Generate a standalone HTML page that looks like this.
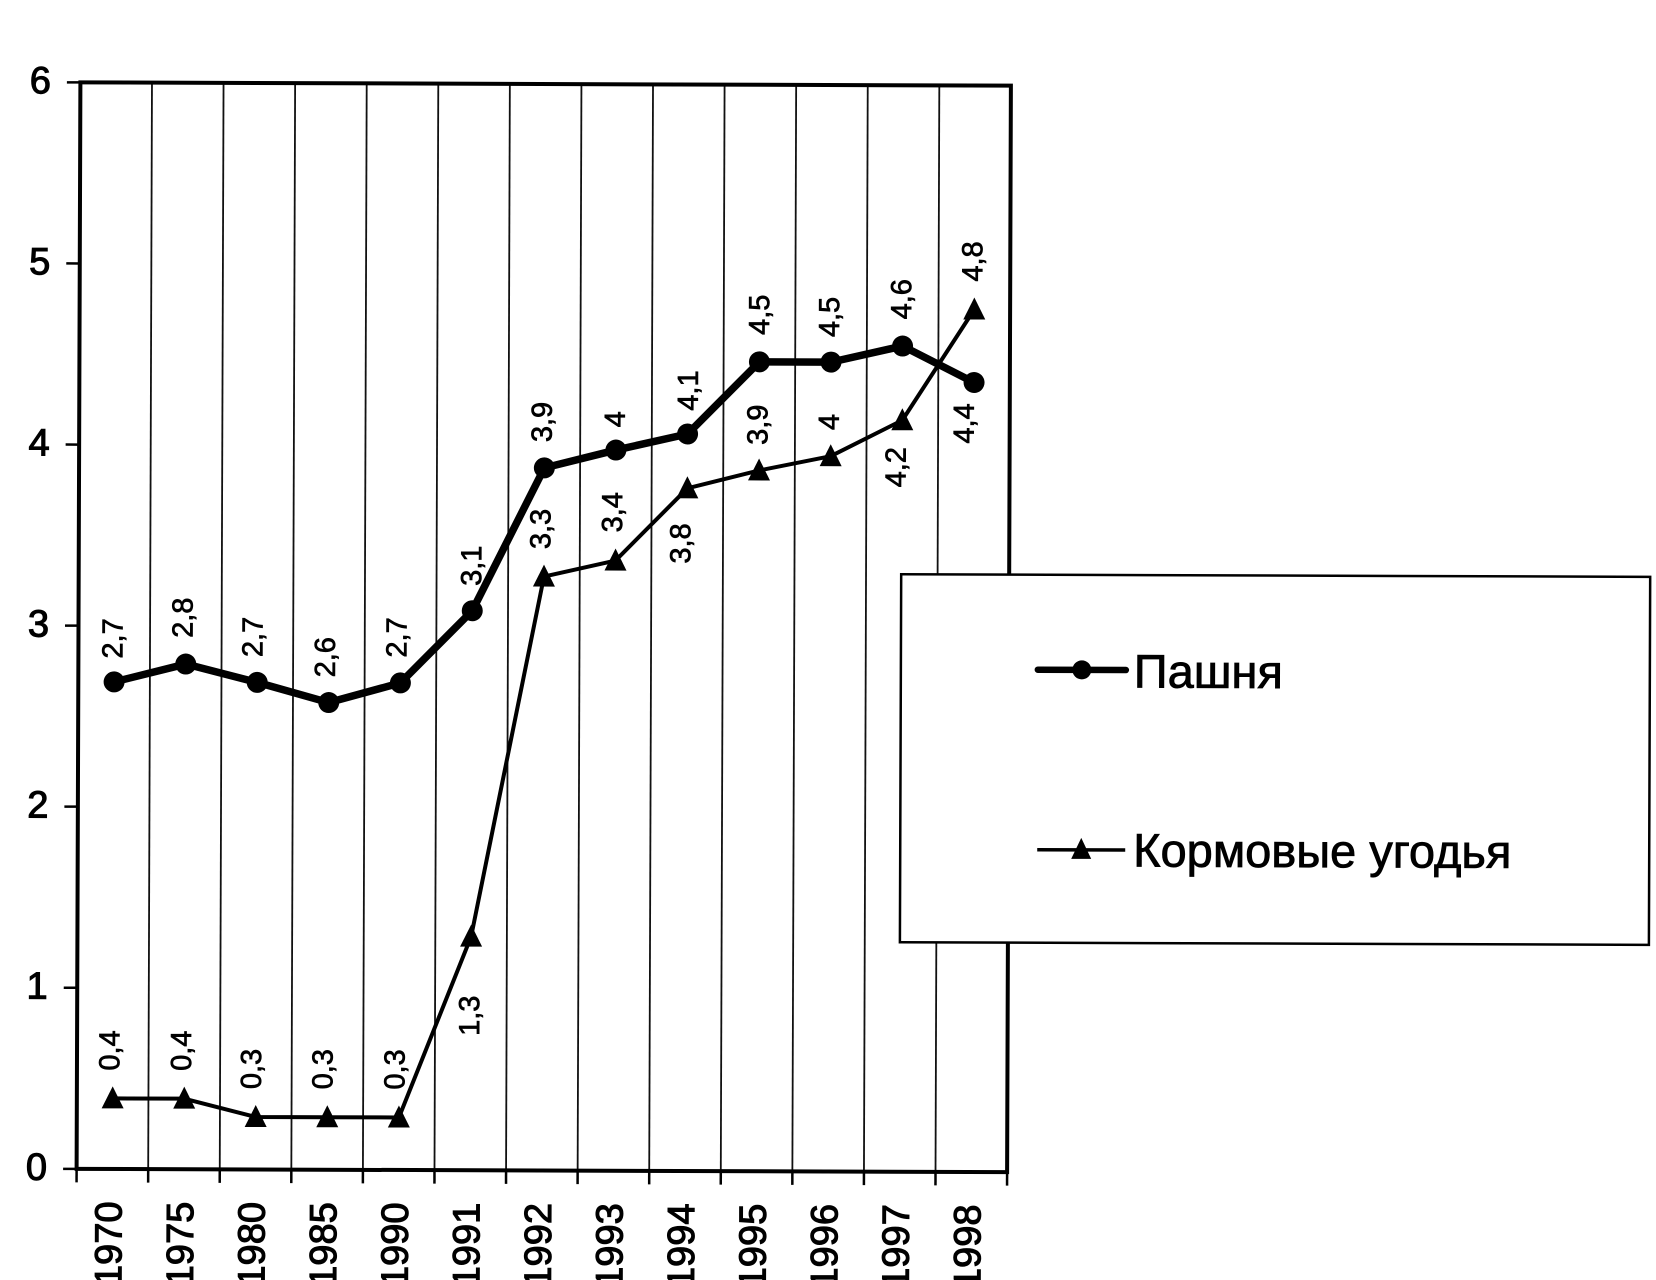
<!DOCTYPE html>
<html>
<head>
<meta charset="utf-8">
<style>
  html, body { margin: 0; padding: 0; background: #fff; }
  body { width: 1656px; height: 1280px; overflow: hidden; }
  svg { display: block; }
  text { font-family: "Liberation Sans", "DejaVu Sans", sans-serif; fill: #000; }
</style>
</head>
<body>
<svg width="1656" height="1280" viewBox="0 0 1656 1280" xmlns="http://www.w3.org/2000/svg">
  <rect x="0" y="0" width="1656" height="1280" fill="#fff"/>
  <g transform="rotate(0.2 544 627)">
    <!-- vertical gridlines -->
    <g stroke="#111" stroke-width="1.8">
      <line x1="150.08" y1="84" x2="150.08" y2="1170.5"/>
      <line x1="221.65" y1="84" x2="221.65" y2="1170.5"/>
      <line x1="293.23" y1="84" x2="293.23" y2="1170.5"/>
      <line x1="364.81" y1="84" x2="364.81" y2="1170.5"/>
      <line x1="436.39" y1="84" x2="436.39" y2="1170.5"/>
      <line x1="507.96" y1="84" x2="507.96" y2="1170.5"/>
      <line x1="579.54" y1="84" x2="579.54" y2="1170.5"/>
      <line x1="651.12" y1="84" x2="651.12" y2="1170.5"/>
      <line x1="722.69" y1="84" x2="722.69" y2="1170.5"/>
      <line x1="794.27" y1="84" x2="794.27" y2="1170.5"/>
      <line x1="865.85" y1="84" x2="865.85" y2="1170.5"/>
      <line x1="937.42" y1="84" x2="937.42" y2="1170.5"/>
    </g>
    <!-- plot frame -->
    <rect x="78.5" y="84" width="930.5" height="1086.5" fill="none" stroke="#000" stroke-width="4"/>
    <!-- y ticks -->
    <g stroke="#000" stroke-width="2.5">
      <line x1="65" y1="84" x2="78.5" y2="84"/>
      <line x1="65" y1="265.1" x2="78.5" y2="265.1"/>
      <line x1="65" y1="446.2" x2="78.5" y2="446.2"/>
      <line x1="65" y1="627.3" x2="78.5" y2="627.3"/>
      <line x1="65" y1="808.3" x2="78.5" y2="808.3"/>
      <line x1="65" y1="989.4" x2="78.5" y2="989.4"/>
      <line x1="65" y1="1170.5" x2="78.5" y2="1170.5"/>
    </g>
    <!-- x ticks -->
    <g stroke="#000" stroke-width="2.5">
      <line x1="78.5" y1="1170.5" x2="78.5" y2="1184"/>
      <line x1="150.08" y1="1170.5" x2="150.08" y2="1184"/>
      <line x1="221.65" y1="1170.5" x2="221.65" y2="1184"/>
      <line x1="293.23" y1="1170.5" x2="293.23" y2="1184"/>
      <line x1="364.81" y1="1170.5" x2="364.81" y2="1184"/>
      <line x1="436.39" y1="1170.5" x2="436.39" y2="1184"/>
      <line x1="507.96" y1="1170.5" x2="507.96" y2="1184"/>
      <line x1="579.54" y1="1170.5" x2="579.54" y2="1184"/>
      <line x1="651.12" y1="1170.5" x2="651.12" y2="1184"/>
      <line x1="722.69" y1="1170.5" x2="722.69" y2="1184"/>
      <line x1="794.27" y1="1170.5" x2="794.27" y2="1184"/>
      <line x1="865.85" y1="1170.5" x2="865.85" y2="1184"/>
      <line x1="937.42" y1="1170.5" x2="937.42" y2="1184"/>
      <line x1="1009" y1="1170.5" x2="1009" y2="1184"/>
    </g>
    <!-- y labels -->
    <g font-size="38" text-anchor="end" stroke="#000" stroke-width="1.1">
      <text x="49" y="95">6</text>
      <text x="49" y="276.1">5</text>
      <text x="49" y="457.2">4</text>
      <text x="49" y="638.3">3</text>
      <text x="49" y="819.3">2</text>
      <text x="49" y="1000.4">1</text>
      <text x="49" y="1181.5">0</text>
    </g>
    <!-- x labels -->
    <g font-size="38" text-anchor="end" stroke="#000" stroke-width="1.1">
      <text transform="translate(123.6,1203) rotate(-90)">1970</text>
      <text transform="translate(195.2,1203) rotate(-90)">1975</text>
      <text transform="translate(266.7,1203) rotate(-90)">1980</text>
      <text transform="translate(338.3,1203) rotate(-90)">1985</text>
      <text transform="translate(409.9,1203) rotate(-90)">1990</text>
      <text transform="translate(481.5,1203) rotate(-90)">1991</text>
      <text transform="translate(553.1,1203) rotate(-90)">1992</text>
      <text transform="translate(624.6,1203) rotate(-90)">1993</text>
      <text transform="translate(696.2,1203) rotate(-90)">1994</text>
      <text transform="translate(767.8,1203) rotate(-90)">1995</text>
      <text transform="translate(839.4,1203) rotate(-90)">1996</text>
      <text transform="translate(910.9,1203) rotate(-90)">1997</text>
      <text transform="translate(982.5,1203) rotate(-90)">1998</text>
    </g>

    <!-- Series 1: Пашня -->
    <polyline fill="none" stroke="#000" stroke-width="7.5" stroke-linejoin="round" stroke-linecap="round"
      points="114.3,683.4 185.9,665.3 257.4,683.4 329.0,703.3 400.6,683.4 472.2,611.0 543.8,467.9 615.3,449.8 686.9,433.5 758.5,361.1 830.1,361.1 901.6,344.8 973.2,381.0"/>
    <g fill="#000">
      <circle cx="114.3" cy="683.4" r="10.5"/>
      <circle cx="185.9" cy="665.3" r="10.5"/>
      <circle cx="257.4" cy="683.4" r="10.5"/>
      <circle cx="329.0" cy="703.3" r="10.5"/>
      <circle cx="400.6" cy="683.4" r="10.5"/>
      <circle cx="472.2" cy="611.0" r="10.5"/>
      <circle cx="543.8" cy="467.9" r="10.5"/>
      <circle cx="615.3" cy="449.8" r="10.5"/>
      <circle cx="686.9" cy="433.5" r="10.5"/>
      <circle cx="758.5" cy="361.1" r="10.5"/>
      <circle cx="830.1" cy="361.1" r="10.5"/>
      <circle cx="901.6" cy="344.8" r="10.5"/>
      <circle cx="973.2" cy="381.0" r="10.5"/>
    </g>

    <!-- Series 2: Кормовые угодья -->
    <polyline fill="none" stroke="#000" stroke-width="4" stroke-linejoin="round"
      points="114.3,1099.9 185.9,1099.9 257.4,1118.0 329.0,1118.0 400.6,1118.0 472.2,936.9 543.8,576.6 615.3,560.3 686.9,487.8 758.5,469.7 830.1,455.2 901.6,419.0 973.2,308.0"/>
    <g fill="#000">
      <polygon points="103.3,1109.9 125.3,1109.9 114.3,1087.9"/>
      <polygon points="174.9,1109.9 196.9,1109.9 185.9,1087.9"/>
      <polygon points="246.4,1128.0 268.4,1128.0 257.4,1106.0"/>
      <polygon points="318.0,1128.0 340.0,1128.0 329.0,1106.0"/>
      <polygon points="389.6,1128.0 411.6,1128.0 400.6,1106.0"/>
      <polygon points="461.2,946.9 483.2,946.9 472.2,924.9"/>
      <polygon points="532.8,586.6 554.8,586.6 543.8,564.6"/>
      <polygon points="604.3,570.3 626.3,570.3 615.3,548.3"/>
      <polygon points="675.9,497.8 697.9,497.8 686.9,475.8"/>
      <polygon points="747.5,479.7 769.5,479.7 758.5,457.7"/>
      <polygon points="819.1,465.2 841.1,465.2 830.1,443.2"/>
      <polygon points="890.6,429.0 912.6,429.0 901.6,407.0"/>
      <polygon points="962.2,318.0 984.2,318.0 973.2,296.0"/>
    </g>

    <!-- data labels series 1 -->
    <g font-size="29" text-anchor="middle" stroke="#000" stroke-width="0.7">
      <text transform="translate(122.5,640) rotate(-90)">2,7</text>
      <text transform="translate(192.5,619) rotate(-90)">2,8</text>
      <text transform="translate(262.5,638) rotate(-90)">2,7</text>
      <text transform="translate(335,658) rotate(-90)">2,6</text>
      <text transform="translate(406.5,638) rotate(-90)">2,7</text>
      <text transform="translate(481,566) rotate(-90)">3,1</text>
      <text transform="translate(551,422) rotate(-90)">3,9</text>
      <text transform="translate(624,419) rotate(-90)">4</text>
      <text transform="translate(697,390) rotate(-90)">4,1</text>
      <text transform="translate(768,314) rotate(-90)">4,5</text>
      <text transform="translate(838,316) rotate(-90)">4,5</text>
      <text transform="translate(910,298) rotate(-90)">4,6</text>
      <text transform="translate(973,422) rotate(-90)">4,4</text>
    </g>
    <!-- data labels series 2 -->
    <g font-size="29" text-anchor="middle" stroke="#000" stroke-width="0.7">
      <text transform="translate(120.8,1052) rotate(-90)">0,4</text>
      <text transform="translate(192.5,1052) rotate(-90)">0,4</text>
      <text transform="translate(262.5,1070) rotate(-90)">0,3</text>
      <text transform="translate(334,1070) rotate(-90)">0,3</text>
      <text transform="translate(406,1070) rotate(-90)">0,3</text>
      <text transform="translate(480.5,1016) rotate(-90)">1,3</text>
      <text transform="translate(550,529) rotate(-90)">3,3</text>
      <text transform="translate(621.7,512) rotate(-90)">3,4</text>
      <text transform="translate(690,543) rotate(-90)">3,8</text>
      <text transform="translate(766.7,424) rotate(-90)">3,9</text>
      <text transform="translate(838,421) rotate(-90)">4</text>
      <text transform="translate(905,466) rotate(-90)">4,2</text>
      <text transform="translate(981,260) rotate(-90)">4,8</text>
    </g>

    <!-- legend -->
    <rect x="901" y="573" width="749" height="368" fill="#fff" stroke="#000" stroke-width="2.5"/>
    <line x1="1038" y1="668" x2="1126" y2="668" stroke="#000" stroke-width="6.5" stroke-linecap="round"/>
    <circle cx="1082" cy="668" r="9.5" fill="#000"/>
    <text x="1134" y="685.5" font-size="47" stroke="#000" stroke-width="0.8">Пашня</text>
    <line x1="1038" y1="848" x2="1126" y2="848" stroke="#000" stroke-width="3.5"/>
    <polygon points="1072,857 1092,857 1082,836" fill="#000"/>
    <text x="1134" y="864.5" font-size="47" stroke="#000" stroke-width="0.8">Кормовые угодья</text>
  </g>
</svg>
</body>
</html>
